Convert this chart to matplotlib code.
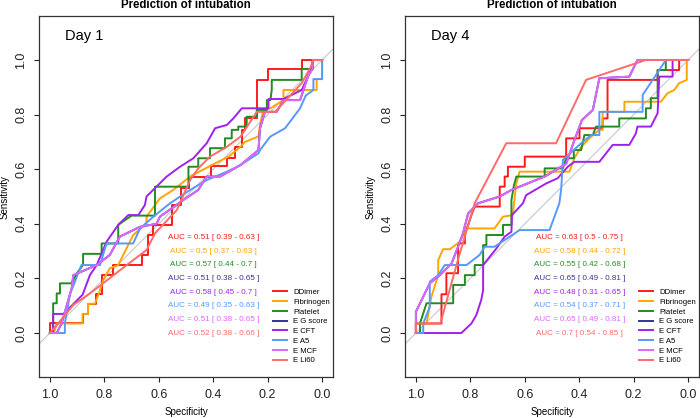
import matplotlib
matplotlib.use("Agg")
import matplotlib.pyplot as plt

plt.rcParams['font.family'] = ['Liberation Sans', 'DejaVu Sans']

markers = ["DDimer", "Fibrinogen", "Platelet", "E G score", "E CFT", "E A5", "E MCF", "E Li60"]
colors = ["#FF1A1A", "#FFA500", "#228B22", "#333399", "#A020F0", "#5599FF", "#E066FF", "#FF6A6A"]

# ROC vertices (specificity, sensitivity)
day1_ddimer = [(1, 0), (1, 0.035), (0.88, 0.035), (0.88, 0.07), (0.86, 0.07), (0.86, 0.107), (0.83, 0.107),
               (0.83, 0.143), (0.81, 0.143), (0.81, 0.212), (0.77, 0.212), (0.77, 0.25), (0.663, 0.25),
               (0.663, 0.286), (0.639, 0.286), (0.639, 0.359), (0.62, 0.359), (0.62, 0.396), (0.553, 0.396),
               (0.553, 0.47), (0.52, 0.47), (0.52, 0.53), (0.49, 0.53), (0.49, 0.57), (0.41, 0.57), (0.41, 0.61),
               (0.35, 0.61), (0.35, 0.64), (0.32, 0.64), (0.32, 0.68), (0.295, 0.68), (0.295, 0.745),
               (0.283, 0.745), (0.283, 0.786), (0.24, 0.786), (0.24, 0.927), (0.197, 0.927), (0.197, 0.967),
               (0.075, 0.967), (0.075, 1.0), (0, 1.0)]
day1_fibrinogen = [(1, 0), (0.985, 0), (0.975, 0.035), (0.88, 0.035), (0.88, 0.07), (0.86, 0.07), (0.86, 0.107),
                   (0.835, 0.107), (0.82, 0.145), (0.804, 0.194), (0.78, 0.237), (0.749, 0.249), (0.694, 0.359),
                   (0.645, 0.402), (0.645, 0.426), (0.596, 0.493), (0.547, 0.524), (0.485, 0.573), (0.406, 0.615),
                   (0.344, 0.646), (0.30, 0.682), (0.283, 0.70), (0.234, 0.72), (0.228, 0.762), (0.216, 0.817),
                   (0.19, 0.823), (0.142, 0.853), (0.142, 0.89), (0.02, 0.89), (0.02, 0.93), (0, 0.93), (0, 1)]
day1_platelet = [(1, 0), (0.988, 0), (0.988, 0.109), (0.975, 0.109), (0.975, 0.145), (0.963, 0.145), (0.963, 0.182),
                 (0.92, 0.182), (0.90, 0.22), (0.878, 0.25), (0.878, 0.29), (0.81, 0.29), (0.81, 0.328),
                 (0.749, 0.328), (0.749, 0.396), (0.70, 0.43), (0.614, 0.43), (0.614, 0.536), (0.491, 0.536),
                 (0.491, 0.609), (0.455, 0.609), (0.455, 0.64), (0.412, 0.64), (0.412, 0.677), (0.357, 0.677),
                 (0.357, 0.713), (0.332, 0.713), (0.332, 0.744), (0.308, 0.744), (0.308, 0.756), (0.277, 0.756),
                 (0.277, 0.792), (0.24, 0.792), (0.24, 0.817), (0.203, 0.817), (0.203, 0.853), (0.19, 0.853),
                 (0.185, 0.89), (0.185, 0.927), (0.075, 0.927), (0.075, 0.967), (0.035, 0.967), (0.035, 1.0), (0, 1)]
day1_ecft = [(1, 0), (0.988, 0), (0.988, 0.07), (0.95, 0.07), (0.88, 0.14), (0.853, 0.212), (0.828, 0.249),
             (0.792, 0.334), (0.749, 0.396), (0.712, 0.432), (0.675, 0.432), (0.651, 0.469), (0.645, 0.5),
             (0.571, 0.573), (0.522, 0.609), (0.473, 0.64), (0.424, 0.695), (0.393, 0.75), (0.35, 0.762),
             (0.326, 0.786), (0.295, 0.823), (0.197, 0.823), (0.197, 0.857), (0.142, 0.857), (0.075, 0.89),
             (0.044, 0.957), (0.032, 1.0), (0, 1)]
day1_ea5 = [(1, 0), (0.945, 0), (0.945, 0.035), (0.926, 0.143), (0.884, 0.249), (0.816, 0.249), (0.792, 0.328),
            (0.694, 0.328), (0.669, 0.383), (0.62, 0.426), (0.559, 0.475), (0.485, 0.524), (0.424, 0.56),
            (0.35, 0.591), (0.30, 0.615), (0.234, 0.658), (0.228, 0.67), (0.191, 0.719), (0.136, 0.75),
            (0.081, 0.823), (0.06, 0.87), (0.032, 0.89), (0.032, 0.93), (0, 0.93), (0, 1)]
day1_emcf = [(1, 0), (0.975, 0), (0.957, 0.035), (0.92, 0.164), (0.914, 0.212), (0.828, 0.249), (0.78, 0.286),
             (0.743, 0.353), (0.669, 0.389), (0.608, 0.40), (0.596, 0.426), (0.51, 0.487), (0.455, 0.524),
             (0.424, 0.573), (0.375, 0.573), (0.30, 0.615), (0.234, 0.67), (0.228, 0.75), (0.21, 0.81),
             (0.167, 0.81), (0.142, 0.853), (0.081, 0.853), (0.05, 0.945), (0.035, 0.967), (0.035, 1.0), (0, 1)]
day1_egscore = day1_emcf  # same AUC and CI, hidden under E MCF
day1_eli60 = [(1, 0), (0.97, 0.035), (0.914, 0.103), (0.853, 0.145), (0.749, 0.225), (0.645, 0.304),
              (0.614, 0.365), (0.534, 0.45), (0.485, 0.56), (0.455, 0.603), (0.412, 0.646), (0.35, 0.682),
              (0.30, 0.719), (0.253, 0.79), (0.24, 0.81), (0.173, 0.81), (0.075, 0.915), (0.044, 0.97),
              (0.032, 1.0), (0, 1)]

day4_ddimer = [(1, 0), (1, 0.035), (0.906, 0.035), (0.906, 0.142), (0.888, 0.142), (0.888, 0.219), (0.845, 0.219),
               (0.845, 0.328), (0.82, 0.328), (0.82, 0.365), (0.808, 0.396), (0.796, 0.432), (0.784, 0.463),
               (0.692, 0.463), (0.692, 0.536), (0.674, 0.536), (0.674, 0.573), (0.662, 0.573), (0.662, 0.609),
               (0.60, 0.609), (0.60, 0.646), (0.448, 0.646), (0.448, 0.713), (0.399, 0.713), (0.399, 0.75),
               (0.314, 0.75), (0.314, 0.786), (0.296, 0.786), (0.296, 0.927), (0.112, 0.927), (0.112, 0.963),
               (0.033, 0.963), (0.033, 1.0), (0, 1)]
day4_fibrinogen = [(1, 0), (1, 0.035), (0.961, 0.035), (0.943, 0.133), (0.918, 0.212), (0.918, 0.267), (0.9, 0.307),
                   (0.875, 0.307), (0.839, 0.334), (0.814, 0.383), (0.711, 0.383), (0.68, 0.426), (0.644, 0.432),
                   (0.64, 0.47), (0.631, 0.548), (0.619, 0.591), (0.436, 0.591), (0.418, 0.64), (0.393, 0.682),
                   (0.356, 0.719), (0.326, 0.744), (0.314, 0.744), (0.314, 0.81), (0.234, 0.81), (0.234, 0.847),
                   (0.1, 0.847), (0.076, 0.878), (0.051, 0.89), (0.033, 0.915), (0.005, 0.927), (0.005, 1.0), (0, 1)]
day4_platelet = [(1, 0), (0.985, 0), (0.985, 0.035), (0.961, 0.109), (0.863, 0.109), (0.863, 0.176), (0.82, 0.176),
                 (0.82, 0.212), (0.784, 0.212), (0.784, 0.249), (0.753, 0.249), (0.753, 0.322), (0.741, 0.322),
                 (0.741, 0.359), (0.68, 0.359), (0.68, 0.396), (0.649, 0.396), (0.649, 0.487), (0.64, 0.54),
                 (0.631, 0.573), (0.527, 0.573), (0.527, 0.603), (0.46, 0.603), (0.448, 0.64), (0.42, 0.64),
                 (0.42, 0.67), (0.393, 0.67), (0.381, 0.725), (0.35, 0.725), (0.338, 0.756), (0.253, 0.756),
                 (0.253, 0.786), (0.155, 0.786), (0.155, 0.823), (0.137, 0.823), (0.137, 0.86), (0.112, 0.86),
                 (0.112, 0.963), (0.082, 0.963), (0.082, 1.0), (0, 1)]
day4_ecft = [(1, 0), (0.833, 0), (0.796, 0.035), (0.778, 0.066), (0.76, 0.121), (0.753, 0.157), (0.753, 0.249),
             (0.704, 0.31), (0.674, 0.353), (0.649, 0.371), (0.647, 0.432), (0.607, 0.475), (0.595, 0.505),
             (0.521, 0.548), (0.479, 0.567), (0.442, 0.609), (0.418, 0.627), (0.326, 0.627), (0.277, 0.689),
             (0.216, 0.689), (0.192, 0.731), (0.186, 0.756), (0.137, 0.756), (0.112, 0.805), (0.106, 0.939),
             (0.057, 0.939), (0.057, 1.0), (0, 1)]
day4_ea5 = [(1, 0), (0.973, 0), (0.973, 0.035), (0.949, 0.096), (0.949, 0.188), (0.918, 0.212), (0.894, 0.249),
            (0.814, 0.249), (0.766, 0.286), (0.747, 0.316), (0.711, 0.316), (0.619, 0.377), (0.509, 0.377),
            (0.473, 0.475), (0.466, 0.53), (0.46, 0.634), (0.393, 0.695), (0.356, 0.725), (0.326, 0.725),
            (0.326, 0.81), (0.167, 0.81), (0.167, 0.872), (0.106, 0.963), (0.082, 1.0), (0, 1)]
day4_emcf = [(1, 0), (1, 0.078), (0.949, 0.182), (0.912, 0.212), (0.869, 0.255), (0.845, 0.316), (0.827, 0.365),
             (0.808, 0.438), (0.772, 0.475), (0.692, 0.5), (0.649, 0.524), (0.527, 0.573), (0.448, 0.62),
             (0.42, 0.70), (0.39, 0.78), (0.35, 0.817), (0.326, 0.933), (0.216, 0.939), (0.186, 1.0), (0, 1)]
day4_egscore = day4_emcf  # same AUC and CI, hidden under E MCF
day4_eli60 = [(1, 0), (1, 0.035), (0.91, 0.035), (0.845, 0.27), (0.784, 0.475), (0.668, 0.695), (0.485, 0.695),
              (0.375, 0.927), (0.155, 1.0), (0, 1)]

day1_auc = [0.51, 0.5, 0.57, 0.51, 0.58, 0.49, 0.51, 0.52]
day1_lo = [0.39, 0.37, 0.44, 0.38, 0.45, 0.35, 0.38, 0.38]
day1_hi = [0.63, 0.63, 0.7, 0.65, 0.7, 0.63, 0.65, 0.66]
day4_auc = [0.63, 0.58, 0.55, 0.65, 0.48, 0.54, 0.65, 0.7]
day4_lo = [0.5, 0.44, 0.42, 0.49, 0.31, 0.37, 0.49, 0.54]
day4_hi = [0.75, 0.72, 0.68, 0.81, 0.65, 0.71, 0.81, 0.85]

day1_curves = [day1_ddimer, day1_fibrinogen, day1_platelet, day1_egscore, day1_ecft, day1_ea5, day1_emcf, day1_eli60]
day4_curves = [day4_ddimer, day4_fibrinogen, day4_platelet, day4_egscore, day4_ecft, day4_ea5, day4_emcf, day4_eli60]

fig = plt.figure(figsize=(7, 4.18), dpi=100)


def panel(left_px, curves, auc, lo, hi, day):
    ax = fig.add_axes([left_px / 700, 41 / 418, 294 / 700, 361 / 418])
    ax.axline((1, 0), (0, 1), color="#C8C8C8", lw=0.8, zorder=1)
    for pts, c, name in zip(curves, colors, markers):
        xs = [p[0] for p in pts]
        ys = [p[1] for p in pts]
        ax.plot(xs, ys, color=c, lw=1.4, label=name, zorder=2)
    for i, (a, l, h) in enumerate(zip(auc, lo, hi)):
        ax.text(0.4, 0.35 - 0.05 * i, f"AUC = {a:g} [ {l:g} - {h:g} ]", color=colors[i],
                fontsize=5.8, ha="center", va="center")
    ax.text(0.945, 1.088, day, fontsize=10.5, ha="left", va="center")
    ax.set_xlim(1.04, -0.04)
    ax.set_ylim(-0.161, 1.161)
    ax.set_xticks([1.0, 0.8, 0.6, 0.4, 0.2, 0.0])
    ax.set_yticks([0.0, 0.2, 0.4, 0.6, 0.8, 1.0])
    ax.set_xticklabels(["1.0", "0.8", "0.6", "0.4", "0.2", "0.0"])
    ax.set_yticklabels(["0.0", "0.2", "0.4", "0.6", "0.8", "1.0"], rotation=90, va="center")
    ax.tick_params(direction="out", length=3.6, width=0.8, labelsize=9, pad=5, colors="#222222")
    for s in ax.spines.values():
        s.set_linewidth(0.9)
        s.set_color("#333333")
    ax.legend(loc="upper left", bbox_to_anchor=(0.796, 0.245), frameon=False, fontsize=5.6,
              handlelength=1.8, handletextpad=0.8, labelspacing=0.3, borderpad=0, borderaxespad=0)
    cx = (left_px + 147) / 700
    fig.text(cx, 1 - 8 / 418, "Prediction of intubation", fontsize=8.3, fontweight="bold",
             ha="center", va="baseline")
    fig.text(cx, 1 - 412 / 418, "Specificity", fontsize=7, ha="center", va="center")
    fig.text((left_px - 34) / 700, 1 - 197 / 418, "Sensitivity", fontsize=7, rotation=90,
             ha="center", va="center")
    return ax


panel(39, day1_curves, day1_auc, day1_lo, day1_hi, "Day 1")
panel(405, day4_curves, day4_auc, day4_lo, day4_hi, "Day 4")

fig.savefig("out.png", dpi=100)
